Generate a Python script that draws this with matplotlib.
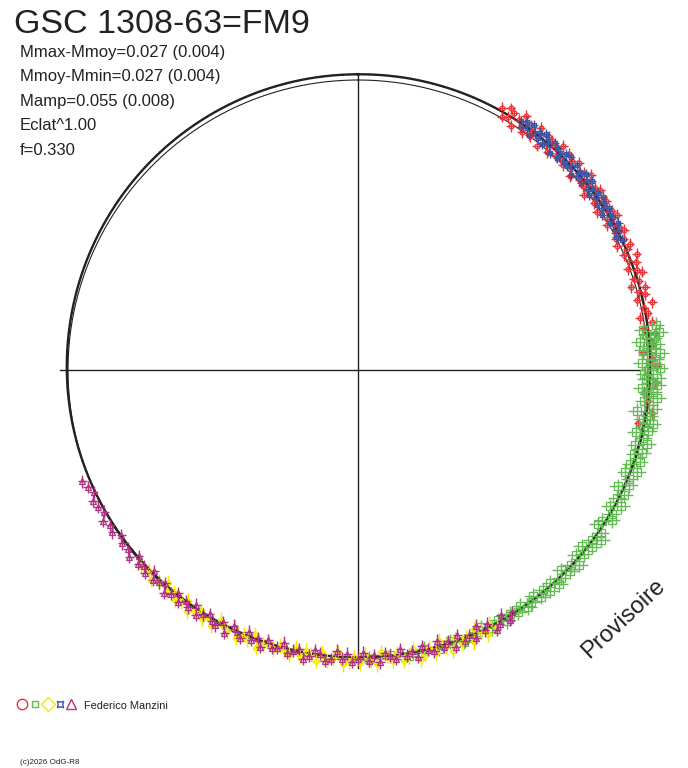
import numpy as np
import matplotlib
matplotlib.use("Agg")
import matplotlib.pyplot as plt
from matplotlib.lines import Line2D

plt.rcParams['font.family'] = ['Liberation Sans', 'DejaVu Sans']

# mean light curve (relative flux, Eclat^1) vs phase in degrees
model_phase = [0, 10, 20, 30, 40, 50, 60, 70, 80, 90, 100, 110,
               120, 130, 140, 150, 160, 170, 180, 190, 200, 210, 220, 230,
               240, 250, 260, 270, 280, 290, 300, 310, 320, 330, 340, 350]
model_flux = [1.0197, 1.0207, 1.0207, 1.0203, 1.0190, 1.0172, 1.0152, 1.0128,
              1.0103, 1.0079, 1.0055, 1.0031, 1.0007, 0.9986, 0.9966, 0.9945,
              0.9931, 0.9917, 0.9910, 0.9910, 0.9917, 0.9928, 0.9941, 0.9959,
              0.9979, 1.0000, 1.0021, 1.0041, 1.0062, 1.0086, 1.0107, 1.0131,
              1.0152, 1.0169, 1.0183, 1.0193]

# observations: phase and residual flux (x1000) for each session
red_phase = [0.080, 0.082, 0.084, 0.085, 0.087, 0.089, 0.091, 0.093, 0.094, 0.096,
             0.098, 0.100, 0.101, 0.103, 0.105, 0.107, 0.109, 0.110, 0.112, 0.114,
             0.116, 0.118, 0.119, 0.121, 0.123, 0.125, 0.127, 0.128, 0.130, 0.132,
             0.134, 0.136, 0.137, 0.139, 0.141, 0.143, 0.145, 0.146, 0.148, 0.150,
             0.152, 0.154, 0.155, 0.157, 0.159, 0.161, 0.163, 0.164, 0.166, 0.168,
             0.170, 0.172, 0.173, 0.175, 0.177, 0.179, 0.181, 0.183, 0.185, 0.187,
             0.189, 0.191, 0.193, 0.195, 0.197, 0.199, 0.201, 0.203, 0.205, 0.207,
             0.209, 0.211, 0.214, 0.216, 0.219, 0.221, 0.224, 0.227, 0.230, 0.233,
             0.236, 0.240, 0.244, 0.248, 0.252, 0.257, 0.262, 0.267, 0.273, 0.280]
red_res = [10, -16, 24, -6, 18, -28, 4, 30, -12, -22, 14, 0, -18, 26, 8, -30, 20, -4, 16, -24,
           6, 28, -14, -8, 22, -20, 12, -2, 27, -26, 2, 18, -10, 32, -16, 4, -30, 14, 24, -6,
           -18, 10, 20, -28, 6, 16, -12, 26, -22, 0, 12, -8, 22, -16, 8, -24, 18, 4, -14, 28,
           -4, 15, -20, 9, 25, -11, 3, -27, 19, -7, 13, -19, 29, -3, 7, -23, 17, -13, 21, -1,
           11, -25, 5, 23, -9, 17, -17, 1, 19, -21]

green_phase = [0.226, 0.228, 0.230, 0.231, 0.233, 0.234, 0.236, 0.238, 0.239, 0.241,
               0.242, 0.244, 0.246, 0.247, 0.249, 0.250, 0.252, 0.254, 0.255, 0.257,
               0.258, 0.260, 0.262, 0.263, 0.265, 0.267, 0.269, 0.271, 0.273, 0.275,
               0.277, 0.279, 0.281, 0.283, 0.285, 0.287, 0.290, 0.292, 0.295, 0.297,
               0.300, 0.303, 0.306, 0.308, 0.311, 0.314, 0.317, 0.320, 0.323, 0.326,
               0.329, 0.332, 0.335, 0.338, 0.341, 0.344, 0.347, 0.350, 0.353, 0.356,
               0.359, 0.362, 0.365, 0.368, 0.371, 0.374, 0.377, 0.380, 0.383, 0.386,
               0.389, 0.392, 0.395, 0.398, 0.401, 0.404, 0.407, 0.411, 0.415, 0.419,
               0.424, 0.429, 0.435, 0.441, 0.448, 0.455, 0.463, 0.472, 0.482, 0.494]
green_res = [28, -18, 36, -8, 16, -32, 22, 6, -24, 34, -12, 18, -30, 10, 32, -4, -20, 24, -14, 8,
             26, -26, 14, -6, 30, -16, 4, 20, -34, 12, -10, 28, -2, 18, -22, 6, 24, -14, 16, -8,
             18, -10, 22, -16, 6, 14, -20, 12, -6, 20, -14, 4, 16, -10, -18, 8, 22, -4, 12, -16,
             6, -12, 18, -2, 10, -14, 4, 16, -8, 12, -6, 8, -12, 4, 10, -8, 6, -4, 12, -6,
             8, -10, 4, 12, -6, 8, -4, 10, -2, 6]

yellow_phase = [0.421, 0.424, 0.427, 0.430, 0.433, 0.436, 0.439, 0.442, 0.445, 0.448,
                0.451, 0.454, 0.457, 0.460, 0.463, 0.466, 0.469, 0.472, 0.475, 0.478,
                0.481, 0.484, 0.487, 0.490, 0.493, 0.496, 0.499, 0.502, 0.505, 0.508,
                0.511, 0.514, 0.517, 0.520, 0.523, 0.526, 0.529, 0.532, 0.535, 0.538,
                0.541, 0.544, 0.547, 0.550, 0.553, 0.556, 0.559, 0.562, 0.565, 0.568,
                0.571, 0.574, 0.577, 0.580, 0.583, 0.586, 0.589, 0.592, 0.595, 0.598,
                0.601, 0.604, 0.607, 0.610, 0.613, 0.616, 0.620, 0.624, 0.628, 0.633]
yellow_res = [12, -8, 22, 4, -16, 26, 0, 14, -10, 30, 6, -18, 20, -4, 16, 28, -12, 8, 24, -6,
              18, 2, -14, 26, 10, -8, 20, -2, 14, 24, -16, 6, 18, -10, 22, 4, -6, 16, -12, 20,
              8, -4, 14, 0, 10, 28, -14, 12, 2, 22, -8, 16, 6, -10, 24, 4, 18, -4, 12, 26,
              -6, 10, 20, 0, 14, -10, 8, 22, 4, 12]

blue_phase = [0.092, 0.094, 0.095, 0.097, 0.099, 0.100, 0.102, 0.104, 0.105, 0.107,
              0.109, 0.110, 0.112, 0.114, 0.115, 0.117, 0.119, 0.120, 0.122, 0.124,
              0.125, 0.127, 0.129, 0.130, 0.132, 0.134, 0.135, 0.137, 0.139, 0.140,
              0.142, 0.144, 0.145, 0.147, 0.149, 0.150, 0.152, 0.154, 0.155, 0.157,
              0.159, 0.160, 0.162, 0.164, 0.166, 0.168, 0.170, 0.172, 0.174, 0.177]
blue_res = [6, -12, 16, -4, 20, -18, 2, 12, -8, 22, -14, 8, -2, 18, -20, 10, 4, -16, 14, -6,
            21, -10, 0, 16, -22, 8, -4, 18, -12, 6, 20, -8, 3, -17, 13, -1, 19, -15, 9, -5,
            15, -19, 5, 11, -9, 17, -3, 7, -13, 1]

purple_phase = [0.410, 0.413, 0.416, 0.419, 0.422, 0.425, 0.428, 0.431, 0.434, 0.437,
                0.440, 0.443, 0.446, 0.449, 0.452, 0.455, 0.458, 0.461, 0.464, 0.467,
                0.470, 0.473, 0.476, 0.479, 0.482, 0.485, 0.488, 0.491, 0.494, 0.497,
                0.500, 0.503, 0.506, 0.509, 0.512, 0.515, 0.518, 0.521, 0.524, 0.527,
                0.530, 0.533, 0.536, 0.539, 0.542, 0.545, 0.548, 0.551, 0.554, 0.557,
                0.560, 0.563, 0.566, 0.569, 0.572, 0.575, 0.578, 0.581, 0.584, 0.587,
                0.590, 0.593, 0.596, 0.599, 0.602, 0.605, 0.608, 0.611, 0.614, 0.617,
                0.620, 0.623, 0.626, 0.629, 0.632, 0.635, 0.638, 0.641, 0.645, 0.649,
                0.653, 0.657, 0.661, 0.665, 0.669, 0.673, 0.677, 0.681, 0.685, 0.689]
purple_res = [-6, 14, -18, 8, 22, -12, 4, -22, 16, -2, 10, -16, 20, -8, 6, -20, 12, 2, -14, 18,
              -4, 8, -18, 14, 0, -10, 20, -6, 12, -16, 4, 16, -12, 6, -20, 10, 18, -4, -14, 8,
              22, -8, 2, 14, -18, 6, 12, -10, 20, -4, 8, -14, 18, 2, -12, 24, -6, 16, 10, -8,
              4, 20, -10, 14, 0, 18, -6, 12, 24, -2, 10, 16, -8, 20, 6, 14, -4, 22, 8, 12,
              -2, 18, 10, 24, 4, 14, 20, 6, 16, 26]

# name, phase, residual, colour, marker, marker size, xerr, yerr
sessions = [
    ("red", red_phase, red_res, "#eb3237", "o", 3.5, 0.016, 0.020),
    ("green", green_phase, green_res, "#62bb52", "s", 6.0, 0.030, 0.026),
    ("yellow", yellow_phase, yellow_res, "#f7e800", "D", 3.5, 0.012, 0.026),
    ("blue", blue_phase, blue_res, "#3c55a5", (4, 1, 45), 4.5, 0.014, 0.018),
    ("purple", purple_phase, purple_res, "#b03282", "^", 4.0, 0.016, 0.022),
]

text_col = "#222222"
R_PX = 290.0          # pixels for flux = 1
CX, CY = 358.0, 370.0  # centre of the diagram in pixels
W, H = 688, 768

fig = plt.figure(figsize=(W / 100, H / 100), dpi=100)
ax = fig.add_axes([0, 0, 1, 1])
ax.set_xlim(-CX / R_PX, (W - CX) / R_PX)
ax.set_ylim(-(H - CY) / R_PX, CY / R_PX)
ax.axis('off')

# reference circle and cross
t = np.linspace(0, 2 * np.pi, 400)
ax.plot(np.sin(t), np.cos(t), color=text_col, lw=0.8, zorder=1)
ax.plot([0, 0], [-1.028, 1.017], color=text_col, lw=1.0, zorder=1)
ax.plot([-1.028, 0.983], [0, 0], color=text_col, lw=1.0, zorder=1)

# mean curve, drawn as arcs between the tabulated phases
deg = np.linspace(0, 360, 721)
mf = np.interp(deg, model_phase, model_flux, period=360)
mx, my = mf * np.sin(np.radians(deg)), mf * np.cos(np.radians(deg))
ax.plot(mx, my, color=text_col, lw=1.7, zorder=2)
# dotted trace showing through the observation bands
ax.plot(mx, my, color=text_col, lw=1.1, ls=(0, (1, 2.5)), zorder=4)

for name, ph, res, col, mk, ms, xe, ye in sessions:
    ph = np.array(ph)
    flux = np.interp(ph * 360, model_phase, model_flux, period=360) + np.array(res) / 1000.0
    x = flux * np.sin(2 * np.pi * ph)
    y = flux * np.cos(2 * np.pi * ph)
    ax.errorbar(x, y, xerr=xe, yerr=ye, fmt='none', ecolor=col, elinewidth=1.0,
                capsize=0, zorder=3)
    ax.plot(x, y, ls='none', marker=mk, ms=ms, mfc='none', mec=col, mew=0.9, zorder=3)

# texts
fig.text(14 / W, 1 - 33 / H, "GSC 1308-63=FM9", fontsize=24.5, color=text_col,
         va='baseline', ha='left')
info = ["Mmax-Mmoy=0.027 (0.004)", "Mmoy-Mmin=0.027 (0.004)", "Mamp=0.055 (0.008)",
        "Eclat^1.00", "f=0.330"]
for i, s in enumerate(info):
    fig.text(20 / W, 1 - (57 + 24.5 * i) / H, s, fontsize=12, color=text_col,
             va='baseline', ha='left')

fig.text(623 / W, 1 - 619 / H, "Provisoire", fontsize=17, color=text_col,
         rotation=43, ha='center', va='center', rotation_mode='anchor')

# legend of sessions
leg_x = [22, 35, 48, 60, 71]
leg_ms = [7.5, 5.0, 7.0, 6.5, 6.5]
for (name, ph, res, col, mk, ms, xe, ye), lx, lms in zip(sessions, leg_x, leg_ms):
    fig.add_artist(Line2D([lx / W], [1 - 704 / H], marker=mk, ms=lms, mfc='none',
                          mec=col, mew=1.0, ls='none', transform=fig.transFigure))
fig.text(84 / W, 1 - 706 / H, "Federico Manzini", fontsize=7.9, color=text_col,
         va='center', ha='left')
fig.text(20 / W, 1 - 763 / H, "(c)2026 OdG-R8", fontsize=5.8, color=text_col,
         va='center', ha='left')

fig.savefig("out.png", dpi=100)
